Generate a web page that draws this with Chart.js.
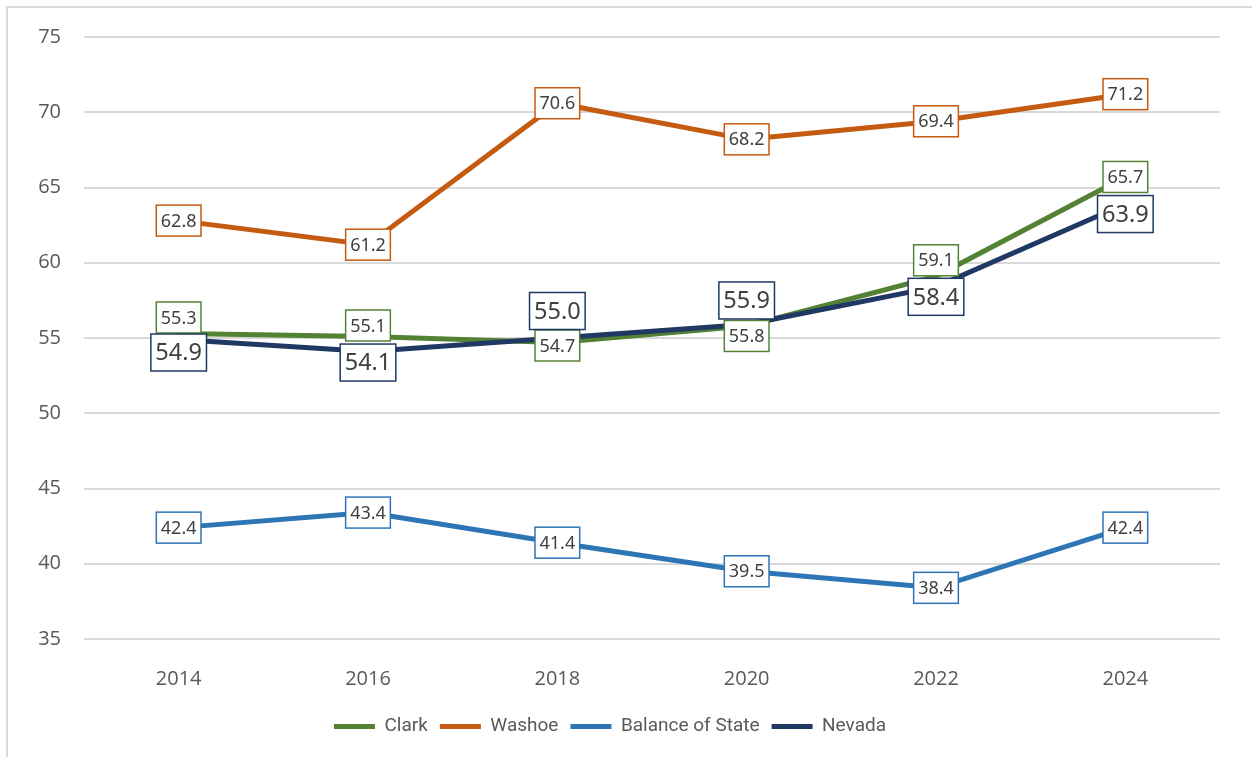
<!DOCTYPE html>
<html>
<head>
<meta charset="utf-8">
<script src="https://cdn.jsdelivr.net/npm/chart.js@4.4.1/dist/chart.umd.min.js"></script>
<style>
    html, body { margin: 0; padding: 0; background: #fff; }
    #frame {
        position: absolute; left: 6px; top: 6px; width: 1400px; height: 900px;
        border-left: 2px solid #d9d9d9; border-top: 2px solid #d9d9d9;
    }
    #wrap { position: absolute; left: 0; top: 0; width: 1252px; height: 757px; }
</style>
</head>
<body>
<div id="frame"></div>
<div id="wrap"><canvas id="myChart"></canvas></div>
<script>
const years = ['2014', '2016', '2018', '2020', '2022', '2024'];
const clark = [55.3, 55.1, 54.7, 55.8, 59.1, 65.7];
const washoe = [62.8, 61.2, 70.6, 68.2, 69.4, 71.2];
const balanceOfState = [42.4, 43.4, 41.4, 39.5, 38.4, 42.4];
const nevada = [54.9, 54.1, 55.0, 55.9, 58.4, 63.9];

const yMin = 35;
const yMax = 75;
const yStep = 5;

// boxed value labels, drawn over the lines
const boxLabels = {
    id: 'boxLabels',
    afterDatasetsDraw(chart) {
        const ctx = chart.ctx;
        chart.data.datasets.forEach((ds, i) => {
            const meta = chart.getDatasetMeta(i);
            if (meta.hidden) return;
            const size = ds.labelSize || 18;
            const boxH = ds.labelBoxH || 31;
            ctx.save();
            ctx.font = size + 'px "Noto Sans", sans-serif';
            ctx.textAlign = 'center';
            ctx.textBaseline = 'middle';
            meta.data.forEach((pt, j) => {
                const text = ds.data[j].toFixed(1);
                const w = ctx.measureText(text).width + 9;
                const cx = pt.x;
                const cy = pt.y + (ds.labelShift ? ds.labelShift[j] : 0);
                ctx.fillStyle = '#ffffff';
                ctx.fillRect(cx - w / 2, cy - boxH / 2, w, boxH);
                ctx.lineWidth = 1.5;
                ctx.strokeStyle = ds.borderColor;
                ctx.strokeRect(cx - w / 2, cy - boxH / 2, w, boxH);
                ctx.fillStyle = '#404040';
                ctx.fillText(text, cx, cy + 1);
            });
            ctx.restore();
        });
    }
};

const ctx = document.getElementById('myChart').getContext('2d');
const chartInstance = new Chart(ctx, {
    type: 'line',
    data: {
        labels: years,
        datasets: [
            {
                label: 'Clark', data: clark, borderColor: '#548235', backgroundColor: '#548235',
                borderWidth: 5, pointRadius: 0, order: 0,
                labelShift: [-16, -11, 3, 10, -16, 0]
            },
            {
                label: 'Washoe', data: washoe, borderColor: '#c55a11', backgroundColor: '#c55a11',
                borderWidth: 5, pointRadius: 0, order: 0
            },
            {
                label: 'Balance of State', data: balanceOfState, borderColor: '#2e75b6', backgroundColor: '#2e75b6',
                borderWidth: 5, pointRadius: 0, order: 0
            },
            {
                label: 'Nevada', data: nevada, borderColor: '#1f3864', backgroundColor: '#1f3864',
                borderWidth: 5, pointRadius: 0, order: -1,
                labelSize: 23.5, labelBoxH: 37,
                labelShift: [13, 11, -27, -24, 10, 10]
            }
        ]
    },
    options: {
        responsive: true,
        maintainAspectRatio: false,
        animation: false,
        layout: { padding: { top: 37, right: 32, bottom: 11, left: 0 } },
        plugins: {
            tooltip: { enabled: false },
            legend: {
                position: 'bottom',
                labels: {
                    boxWidth: 41,
                    boxHeight: 5,
                    padding: 12,
                    color: '#595959',
                    useBorderRadius: true,
                    borderRadius: 2.5,
                    font: { family: 'Roboto, "Noto Sans", sans-serif', size: 19 },
                    generateLabels(chart) {
                        return chart.data.datasets.map((ds, i) => ({
                            text: ds.label,
                            fillStyle: ds.borderColor,
                            strokeStyle: ds.borderColor,
                            lineWidth: 0,
                            fontColor: '#595959',
                            hidden: false,
                            datasetIndex: i
                        }));
                    }
                }
            }
        },
        scales: {
            x: {
                offset: true,
                grid: { display: false },
                border: { display: false },
                ticks: {
                    padding: 20,
                    color: '#595959',
                    font: { family: '"Open Sans", sans-serif', size: 20 }
                },
                afterFit(scale) { scale.height = 66; }
            },
            y: {
                min: yMin,
                max: yMax,
                grid: { color: '#d9d9d9', lineWidth: 2, drawTicks: false },
                border: { display: false },
                ticks: {
                    stepSize: yStep,
                    padding: 23,
                    color: '#595959',
                    font: { family: '"Open Sans", sans-serif', size: 20 }
                },
                afterFit(scale) { scale.width = 84; }
            }
        }
    },
    plugins: [boxLabels]
});
</script>
</body>
</html>
